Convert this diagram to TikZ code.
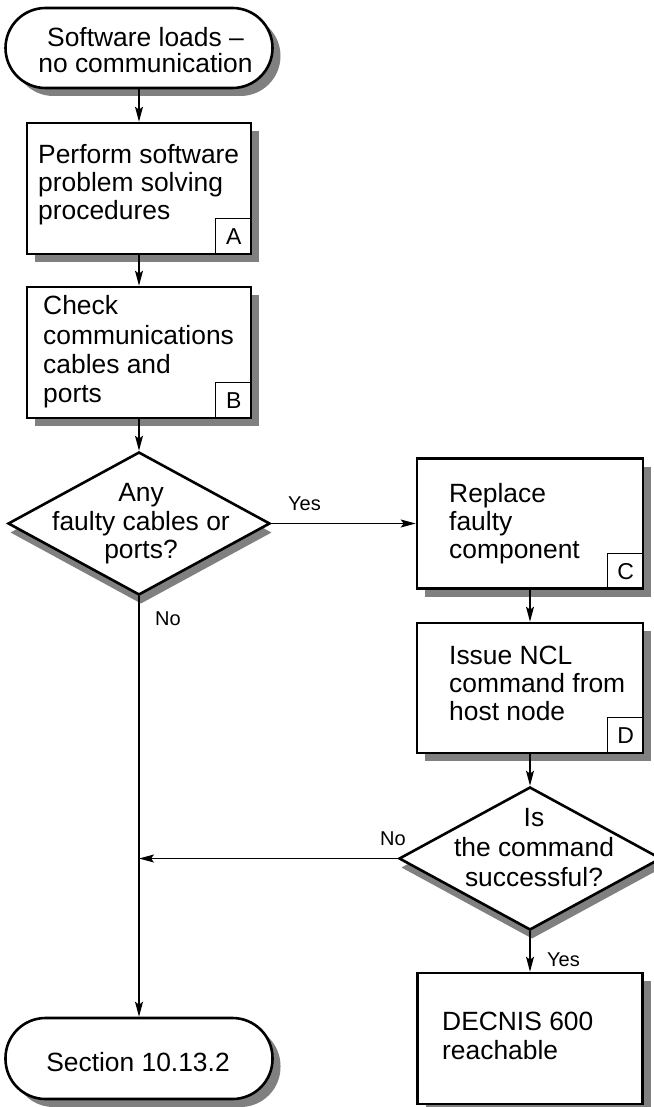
\documentclass[tikz,border=0pt]{standalone}
\usepackage{fontspec}
\setmainfont{Liberation Sans}
\usetikzlibrary{positioning,arrows.meta,shapes.geometric,shadows}

\begin{document}
\begin{tikzpicture}[x=1pt, y=-1pt, >={Stealth[length=15pt, width=8pt, inset=3pt]},
    boxshadow/.style={drop shadow={shadow xshift=8pt, shadow yshift=-8pt, fill=black!50, opacity=1}},
    proc/.style={draw, line width=2.6pt, fill=white, boxshadow, minimum width=224pt, minimum height=131pt, inner sep=0pt},
    term/.style={draw, line width=2.6pt, fill=white, boxshadow, rounded corners=40pt, minimum width=267pt, minimum height=80pt, inner sep=0pt},
    decide/.style={draw, diamond, line width=2.6pt, fill=white, drop shadow={shadow xshift=2pt, shadow yshift=-9pt, fill=black!50, opacity=1}, minimum width=262pt, minimum height=143pt, inner sep=0pt},
    tag/.style={draw, line width=1.2pt, minimum size=36pt, inner sep=0pt, anchor=south east, font=\fontsize{23}{24}\selectfont},
    txt/.style={inner sep=0pt, font=\fontsize{26.4}{28}\selectfont},
    lbl/.style={inner sep=0pt, anchor=base west, font=\fontsize{20}{22}\selectfont},
    flow/.style={->, line width=1.3pt}]
  \useasboundingbox (0,0) rectangle (653,1107);
  % main column
  \node[term] (start) at (139,48) {};
  \node[proc] (boxA) at (139,188.5) {};
  \node[proc] (boxB) at (139,352.5) {};
  \node[decide] (dec1) at (139,523.5) {};
  \node[term, minimum height=81pt] (finish) at (139,1058.5) {};
  % right column
  \node[proc, minimum width=226pt, minimum height=130pt] (boxC) at (530,523.5) {};
  \node[proc, minimum width=226pt, minimum height=130pt] (boxD) at (530,688) {};
  \node[decide] (dec2) at (530,858.5) {};
  \node[proc, minimum width=225pt] (boxE) at (530,1038.5) {};
  % tags
  \node[tag] (tagA) at (boxA.south east) {A};
  \node[tag] (tagB) at (boxB.south east) {B};
  \node[tag] (tagC) at (boxC.south east) {C};
  \node[tag] (tagD) at (boxD.south east) {D};
  % texts
  \node[txt, anchor=north, align=center, font=\fontsize{26.4}{26}\selectfont] (tStart) at (145.5,27.5) {Software loads –\\no communication};
  \node[txt, anchor=north west, align=left] (tA) at (38,144.5) {Perform software\\problem solving\\procedures};
  \node[txt, anchor=north west, align=left, font=\fontsize{26.4}{29.3}\selectfont] (tB) at (43,295.5) {Check\\communications\\cables and\\ports};
  \node[txt, anchor=north, align=center, font=\fontsize{26.4}{28.5}\selectfont] (tDec1) at (141,483.5) {Any\\faulty cables or\\ports?};
  \node[txt, anchor=north west, align=left] (tC) at (449,483.5) {Replace\\faulty\\component};
  \node[txt, anchor=north west, align=left] (tD) at (449,645.5) {Issue NCL\\command from\\host node};
  \node[txt, anchor=north, align=center, font=\fontsize{26.4}{30}\selectfont] (tDec2) at (534,808.5) {Is\\the command\\successful?};
  \node[txt, anchor=north west, align=left, font=\fontsize{26.4}{29}\selectfont] (tE) at (442,1011.5) {DECNIS 600\\reachable};
  \node[txt, anchor=north] (tFinish) at (138,1052.5) {Section 10.13.2};
  % branch labels
  \node[lbl] (yes1) at (288,510) {Yes};
  \node[lbl] (no1) at (155,625) {No};
  \node[lbl] (no2) at (380,845) {No};
  \node[lbl] (yes2) at (547,966) {Yes};
  \coordinate (merge) at (139,858.5);
  % connectors
  \draw[flow] (start) -- (boxA);
  \draw[flow] (boxA) -- (boxB);
  \draw[flow] (boxB) -- (dec1);
  \draw[flow] (dec1) -- (finish);
  \draw[flow] (dec1) -- (boxC);
  \draw[flow] (boxC) -- (boxD);
  \draw[flow] (boxD) -- (dec2);
  \draw[flow] (dec2) -- (boxE);
  \draw[flow] (dec2.west) -- (merge);
\end{tikzpicture}
\end{document}
